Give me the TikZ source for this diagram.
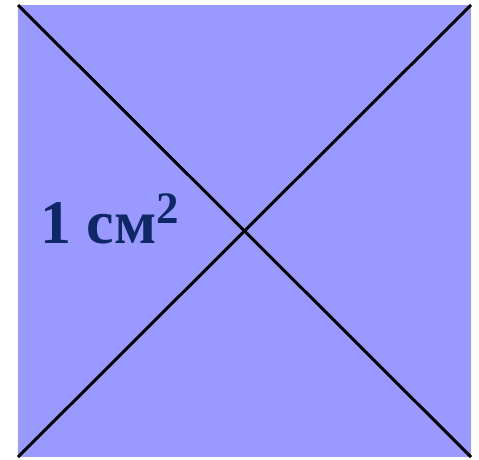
\documentclass[tikz,border=0pt]{standalone}
\usepackage{fontspec}
\setmainfont{Liberation Serif}
\definecolor{sqfill}{HTML}{9999FF}
\definecolor{navy}{RGB}{14,40,102}
\begin{document}
\begin{tikzpicture}[x=1pt,y=-1pt,
  diag/.style={line width=3pt,black},
  lbl/.style={inner sep=0pt,anchor=base west,text=navy,font=\bfseries\fontsize{62}{62}\selectfont}]
\useasboundingbox (0,0) rectangle (479,459);
\coordinate (tl) at (18,5);
\coordinate (tr) at (471,5);
\coordinate (bl) at (18,457);
\coordinate (br) at (471,457);
\fill[sqfill] (tl) rectangle (br);
\draw[diag] (tl) -- (br);
\draw[diag] (tr) -- (bl);
\node[lbl] (area) at (40,243) {1 см\raisebox{20pt}{\fontsize{45}{45}\selectfont 2}};
\end{tikzpicture}
\end{document}
